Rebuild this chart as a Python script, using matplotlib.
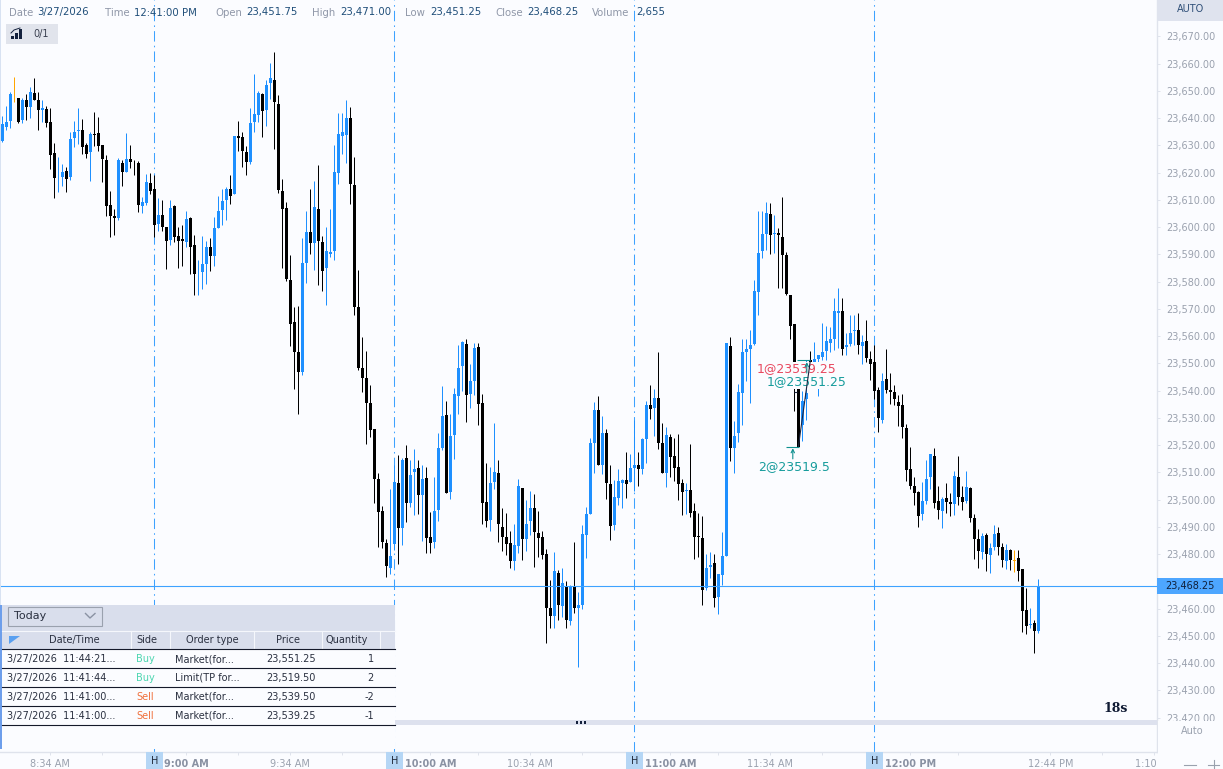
import matplotlib
matplotlib.use('Agg')
import matplotlib.pyplot as plt
from matplotlib.patches import Rectangle, Polygon

plt.rcParams['font.family'] = ['DejaVu Sans']

BG = '#fbfcff'
BLUE = '#1e90ff'
LINE_BLUE = '#3ea2ff'
GRID = '#dfe3ec'
GRAY = '#9aa1ae'

high = [23640.7,23644.6,23649.5,23655.25,23647.5,23647.5,23648.75,23651.6,23654.9,23649.75,
        23646.75,23644.6,23643.9,23631.0,23625.9,23623.3,23622.25,23635.05,23639.1,23643.9,
        23639.85,23631.0,23635.05,23642.4,23640.6,23630.3,23626.65,23613.4,23606.8,23625.5,
        23624.8,23634.7,23630.3,23624.8,23624.45,23611.2,23619.65,23620.0,23619.3,23610.85,
        23610.1,23600.2,23610.1,23608.25,23600.2,23600.95,23606.1,23603.85,23597.3,23588.1,
        23596.9,23595.05,23596.15,23603.85,23611.55,23614.15,23614.9,23619.3,23633.6,23639.1,
        23635.05,23629.95,23643.9,23656.35,23650.1,23649.4,23654.15,23660.4,23664.4,23648.65,
        23617.8,23609.4,23589.95,23570.85,23571.2,23596.15,23606.1,23614.15,23617.1,23622.95,
        23596.9,23600.2,23606.8,23630.3,23642.05,23642.05,23646.8,23644.25,23625.9,23584.45,
        23559.85,23554.7,23542.2,23526.05,23509.95,23497.8,23485.7,23504.05,23512.85,23516.55,
        23515.45,23520.2,23514.7,23518.75,23514.7,23512.85,23512.15,23495.6,23508.45,23524.6,
        23541.85,23536.35,23531.6,23541.1,23556.9,23558.35,23559.1,23549.95,23557.65,23557.65,
        23538.9,23513.6,23512.15,23528.25,23514.7,23497.1,23495.25,23488.65,23491.2,23507.75,
        23504.4,23500.0,23503.3,23502.2,23496.0,23488.65,23482.05,23470.65,23480.95,23474.35,
        23475.05,23470.3,23468.85,23484.6,23466.25,23490.85,23497.45,23522.8,23536.0,23538.2,
        23530.85,23526.1,23512.85,23507.35,23511.4,23507.75,23517.65,23516.9,23529.4,23517.65,
        23522.8,23536.35,23542.2,23540.75,23554.35,23528.3,23526.8,23524.25,23522.8,23524.25,
        23507.75,23506.25,23520.6,23498.9,23495.25,23494.15,23480.2,23480.95,23480.2,23472.85,
        23488.3,23557.65,23559.85,23529.0,23542.6,23559.1,23559.1,23562.4,23580.75,23606.1,
        23606.1,23609.4,23609.0,23604.6,23599.85,23611.25,23591.05,23575.25,23564.6,23550.2,
        23539.8,23551.4,23554.7,23558.0,23553.25,23565.0,23563.9,23563.5,23574.15,23577.8,
        23574.15,23561.3,23567.9,23567.9,23568.65,23560.55,23566.1,23554.7,23556.9,23541.5,
        23546.6,23555.45,23546.6,23542.2,23538.55,23538.9,23527.9,23519.5,23508.45,23503.3,
        23506.6,23514.7,23516.9,23519.1,23505.15,23501.15,23506.25,23502.6,23510.65,23516.15,
        23505.15,23510.65,23504.8,23494.9,23489.4,23487.9,23487.9,23484.25,23490.85,23490.1,
        23484.25,23483.9,23482.05,23481.7,23481.7,23474.7,23467.75,23460.4,23456.0,23471.0]

body_top = [23638.0,23638.75,23648.75,23648.65,23647.5,23646.75,23646.75,23649.75,23649.4,23646.75,
            23643.9,23643.5,23638.75,23627.35,23618.2,23620.4,23620.75,23632.5,23635.05,23635.8,
            23635.8,23630.3,23634.3,23634.3,23634.7,23630.3,23624.8,23608.25,23604.25,23624.8,
            23623.7,23625.15,23625.15,23624.45,23623.7,23609.4,23616.75,23616.35,23614.15,23604.6,
            23604.6,23600.2,23607.2,23607.9,23596.9,23595.8,23603.15,23603.5,23593.6,23583.35,
            23586.65,23592.85,23592.85,23599.85,23606.1,23609.75,23614.15,23614.15,23633.6,23633.6,
            23633.25,23627.75,23638.4,23641.65,23649.4,23649.0,23652.3,23654.9,23654.15,23645.35,
            23613.4,23607.2,23580.75,23565.35,23554.35,23587.0,23598.4,23598.4,23607.55,23606.8,
            23594.7,23591.4,23591.05,23620.4,23634.3,23635.05,23640.2,23640.2,23615.65,23570.85,
            23548.45,23544.8,23535.6,23526.05,23507.75,23496.0,23484.25,23479.5,23506.6,23506.25,
            23514.7,23515.45,23509.2,23511.4,23511.75,23507.75,23508.1,23486.45,23496.0,23519.1,
            23530.85,23531.2,23523.5,23538.9,23548.45,23558.0,23557.25,23543.7,23555.8,23556.15,
            23535.6,23499.3,23506.25,23510.3,23509.95,23490.1,23486.45,23484.25,23483.5,23505.15,
            23504.4,23491.2,23497.1,23497.1,23487.9,23486.45,23480.2,23460.4,23474.0,23473.25,
            23469.6,23468.1,23468.45,23468.1,23461.5,23487.55,23494.9,23520.95,23533.05,23533.05,
            23524.6,23524.6,23505.9,23501.1,23507.0,23507.35,23507.35,23511.75,23512.85,23512.85,
            23522.4,23534.9,23534.9,23537.45,23537.45,23520.95,23523.85,23523.15,23516.15,23512.15,
            23506.25,23503.7,23503.7,23496.0,23486.8,23486.1,23475.05,23476.2,23476.9,23472.85,
            23479.5,23557.65,23556.55,23523.5,23539.65,23554.35,23555.45,23556.9,23576.7,23590.65,
            23597.65,23605.35,23605.0,23598.0,23598.0,23596.55,23589.95,23575.25,23564.6,23547.75,
            23536.35,23539.3,23551.4,23551.75,23553.25,23554.35,23558.4,23559.1,23569.4,23569.4,
            23569.4,23556.9,23561.3,23562.4,23562.4,23558.0,23558.4,23551.75,23550.65,23540.4,
            23543.7,23544.4,23540.4,23539.65,23536.0,23534.9,23526.45,23511.4,23505.15,23502.95,
            23499.65,23507.75,23516.9,23516.15,23499.65,23500.4,23500.75,23499.3,23508.8,23508.45,
            23501.15,23504.8,23504.4,23493.4,23485.7,23486.8,23487.2,23482.4,23487.55,23487.9,
            23482.75,23481.7,23481.7,23478.0,23478.75,23474.7,23459.65,23454.5,23454.9,23468.25]

body_bottom = [23631.75,23636.9,23639.1,23648.4,23638.75,23639.5,23644.25,23644.25,23646.75,23643.15,
               23643.15,23638.4,23626.65,23618.2,23617.95,23618.55,23617.8,23618.55,23632.85,23635.45,
               23629.55,23627.0,23627.5,23634.0,23629.95,23625.15,23607.9,23604.25,23603.5,23603.5,
               23620.4,23620.4,23624.05,23624.2,23608.25,23607.9,23609.0,23613.4,23600.95,23601.3,
               23600.2,23595.05,23595.45,23596.55,23595.05,23595.05,23594.7,23592.85,23583.0,23583.1,
               23583.7,23586.65,23589.55,23589.55,23599.85,23606.45,23610.1,23611.55,23612.3,23632.85,
               23628.1,23624.05,23624.05,23638.75,23641.3,23642.8,23643.15,23653.05,23646.05,23613.8,
               23606.8,23581.1,23564.6,23554.35,23547.0,23547.0,23587.0,23594.35,23594.35,23595.05,
               23584.05,23585.15,23590.3,23591.4,23620.0,23633.6,23634.0,23616.0,23570.85,23548.45,
               23544.8,23535.6,23525.7,23507.75,23495.6,23484.6,23475.8,23475.05,23483.9,23489.75,
               23489.75,23498.9,23498.9,23510.3,23501.85,23501.85,23486.1,23484.25,23484.6,23496.35,
               23519.1,23502.6,23502.95,23523.85,23538.2,23549.2,23538.55,23538.9,23543.7,23535.25,
               23498.9,23492.3,23492.7,23506.6,23491.2,23486.45,23483.9,23477.65,23477.65,23483.15,
               23485.7,23485.7,23492.3,23488.25,23486.1,23479.85,23460.4,23457.45,23457.45,23461.5,
               23461.15,23456.0,23455.6,23460.4,23460.4,23461.5,23487.2,23494.9,23520.95,23512.85,
               23512.85,23506.25,23490.5,23490.85,23500.75,23506.25,23505.9,23506.6,23511.75,23511.4,
               23511.4,23522.4,23533.4,23533.8,23520.95,23509.95,23509.95,23515.8,23511.75,23505.9,
               23502.95,23503.3,23495.25,23486.45,23486.45,23467.0,23467.75,23475.45,23464.05,23464.45,
               23472.5,23479.5,23519.1,23519.1,23524.6,23539.3,23554.35,23555.45,23557.3,23576.35,
               23591.4,23597.65,23597.3,23597.65,23597.3,23589.95,23575.65,23563.9,23547.75,23519.5,
               23527.55,23537.1,23547.75,23550.2,23551.75,23552.5,23554.7,23557.65,23559.1,23568.65,
               23555.45,23556.15,23557.3,23562.05,23556.9,23556.55,23552.15,23549.95,23540.0,23530.1,
               23529.4,23540.4,23539.65,23537.1,23534.5,23526.8,23511.05,23505.15,23502.6,23494.15,
               23494.9,23499.65,23508.45,23498.9,23496.35,23496.0,23499.3,23498.55,23498.55,23501.15,
               23499.3,23499.65,23493.4,23485.7,23481.3,23480.95,23480.2,23479.85,23482.75,23482.75,
               23478.0,23477.65,23478.0,23477.65,23474.0,23459.3,23453.8,23454.15,23451.95,23451.75]

low = [23631.25,23635.8,23636.5,23645.85,23638.15,23638.25,23639.5,23640.2,23646.75,23635.8,
       23638.75,23636.9,23621.5,23610.85,23613.05,23615.25,23613.05,23617.45,23629.55,23630.65,
       23627.0,23625.5,23617.1,23629.95,23628.1,23616.75,23604.25,23596.55,23597.3,23602.8,
       23615.25,23620.4,23621.85,23619.3,23605.7,23605.35,23608.25,23612.3,23596.55,23598.75,
       23598.75,23584.8,23593.6,23594.7,23585.15,23585.9,23592.85,23583.0,23575.25,23575.25,
       23577.45,23579.3,23584.05,23585.9,23599.85,23600.95,23602.8,23608.65,23612.3,23628.1,
       23622.25,23619.3,23623.3,23635.05,23638.75,23633.25,23637.25,23647.2,23628.85,23612.7,
       23585.15,23580.4,23556.55,23540.75,23531.6,23545.9,23579.65,23590.3,23584.45,23578.9,
       23576.7,23571.6,23589.2,23588.1,23616.0,23627.0,23623.7,23608.65,23567.9,23547.75,
       23539.65,23520.6,23523.15,23498.9,23482.75,23482.4,23471.75,23472.85,23481.7,23476.55,
       23483.5,23491.95,23497.45,23494.5,23494.9,23485.0,23480.55,23480.55,23482.4,23492.3,
       23518.35,23502.6,23500.4,23515.05,23531.6,23540.0,23528.65,23533.8,23538.55,23527.55,
       23491.2,23490.1,23488.65,23504.05,23484.6,23481.3,23479.85,23475.05,23474.35,23480.55,
       23478.0,23481.3,23487.2,23475.45,23479.1,23478.4,23447.55,23453.05,23453.05,23456.0,
       23457.1,23453.05,23454.15,23458.55,23438.75,23460.0,23478.75,23494.9,23509.95,23512.85,
       23509.55,23500.4,23485.35,23489.0,23498.2,23497.1,23500.75,23506.6,23503.35,23505.15,
       23509.55,23513.6,23529.75,23523.5,23518.75,23509.95,23504.8,23508.45,23507.0,23500.0,
       23494.5,23494.9,23493.8,23478.4,23479.1,23461.5,23467.0,23471.4,23460.75,23458.2,
       23468.85,23479.5,23514.35,23509.95,23521.3,23527.55,23543.7,23535.65,23556.9,23567.9,
       23588.85,23591.8,23590.3,23590.65,23577.8,23577.8,23575.25,23559.1,23532.45,23519.5,
       23521.7,23529.4,23545.3,23547.75,23538.2,23551.4,23551.4,23554.35,23555.05,23555.8,
       23553.25,23553.25,23556.55,23556.9,23553.6,23549.95,23550.65,23544.05,23537.1,23525.0,
       23528.25,23539.3,23535.25,23534.9,23527.2,23522.8,23507.0,23504.05,23498.2,23490.1,
       23492.7,23498.55,23504.05,23497.1,23493.05,23489.75,23495.25,23494.15,23494.5,23498.2,
       23496.35,23498.9,23491.95,23478.4,23475.05,23478.4,23474.0,23473.25,23481.7,23479.85,
       23475.45,23474.7,23474.35,23473.6,23470.3,23451.6,23450.85,23453.05,23443.9,23451.25]

# b = up, k = down, o = highlighted
side = ('bbbokbkbkk' 'bkkkbbkbbb' 'kkbkkkkkkb' 'kbkkkbbkkb' 'kkbkkkbkkb'
        'bbkbbbbkbk' 'kkbbbkbbkk' 'kkkkkbbkbk' 'kbbbbbbkkk' 'kkkkkkkbbk'
        'bkbbkbkkbb' 'bkbbbbkbbk' 'kkbbkkkkbb' 'kbbkkkkkbk' 'bkbkbbbbbk'
        'bkkbbbkbbk' 'bbkbkkbkkk' 'kbkkkkbbkb' 'bbkbbbbbbb' 'bbkbkkkkkk'
        'bbkbbbbbbb' 'kbbbkbkkkk' 'bkkkkkkkkk' 'bbbkkbkkbk' 'kbkkkbkbbk'
        'kbkokkkbkb')

colors = {'b': BLUE, 'k': '#000000', 'o': '#ffa500'}

last_price = 23468.25
hour_bars = [38, 98, 158, 218]
price_ticks = list(range(23420, 23680, 10))
time_ticks = [12, 25, 46, 59, 72, 85, 107, 119, 132, 145, 167, 179, 192, 205, 227, 239, 262, 275, 288]
time_labels = ['8:34 AM', '', '9:00 AM', '', '9:34 AM', '', '10:00 AM', '', '10:34 AM', '',
               '11:00 AM', '', '11:34 AM', '', '12:00 PM', '', '12:44 PM', '', '1:10 PM']
bold_labels = ['9:00 AM', '10:00 AM', '11:00 AM', '12:00 PM']

header_names = ['Date', 'Time', 'Open', 'High', 'Low', 'Close', 'Volume']
header_values = ['3/27/2026', '12:41:00 PM', '23,451.75', '23,471.00', '23,451.25', '23,468.25', '2,655']

table_cols = ['Date/Time', 'Side', 'Order type', 'Price', 'Quantity']
order_times = ['3/27/2026  11:44:21...', '3/27/2026  11:41:44...', '3/27/2026  11:41:00...', '3/27/2026  11:41:00...']
order_sides = ['Buy', 'Buy', 'Sell', 'Sell']
order_types = ['Market(for...', 'Limit(TP for...', 'Market(for...', 'Market(for...']
order_prices = ['23,551.25', '23,519.50', '23,539.50', '23,539.25']
order_qty = ['1', '2', '-2', '-1']

fig = plt.figure(figsize=(12.23, 7.69), dpi=100, facecolor=BG)

ax = fig.add_axes([0, 17 / 769, 1157 / 1223, 752 / 769], facecolor=BG)
ax.set_xlim(-0.6, 288.65)
ax.set_ylim(23407.43, 23683.39)

xs = list(range(len(high)))
bar_colors = [colors[s] for s in side]
ax.vlines(xs, low, high, colors=bar_colors, linewidth=0.72, zorder=2)
ax.bar(xs, [t - b for t, b in zip(body_top, body_bottom)], bottom=body_bottom,
       width=0.75, color=bar_colors, linewidth=0, zorder=2.1)

for h in hour_bars:
    ax.axvline(h, color=LINE_BLUE, lw=0.75, linestyle=(0, (10, 4, 1.5, 4)), zorder=1.5)
    ax.add_patch(Rectangle((h - 2.1, -17 / 752), 4.25, 17 / 752, transform=ax.get_xaxis_transform(),
                           facecolor='#b5d6f5', edgecolor='none', clip_on=False, zorder=5))
    ax.annotate('H', xy=(h, -8.5 / 752), xycoords=ax.get_xaxis_transform(), ha='center', va='center',
                fontsize=7, color='#222a3a', annotation_clip=False, zorder=6)

ax.axhline(last_price, color=LINE_BLUE, lw=0.8, zorder=4)

# trade labels cover the candles behind them
box = dict(facecolor=BG, edgecolor='none', pad=0.6)
ax.text(198.6, 23548.0, '1@23539.25', color='#e8485f', fontsize=9, ha='center', va='center', bbox=box, zorder=3)
ax.text(201.05, 23543.2, '1@23551.25', color='#169c9c', fontsize=9, ha='center', va='center', bbox=box, zorder=3.1)
ax.text(197.8, 23512.1, '2@23519.5', color='#169c9c', fontsize=9, ha='center', va='center', zorder=3.1)

ax.plot([199, 202], [23519.5, 23551.25], color='#1c2540', lw=0.8, zorder=3.5)
ax.hlines(23519.5, 196, 199.2, color='#0e8f8f', lw=0.8, zorder=3.5)
ax.hlines(23551.25, 198.6, 202, color='#0e8f8f', lw=0.8, zorder=3.5)
ax.hlines(23539.5, 197.8, 198.6, color='#1c2540', lw=0.8, zorder=3.5)
ax.annotate('', xy=(197.6, 23518.9), xytext=(197.6, 23515.0),
            arrowprops=dict(arrowstyle='->', color='#0e8f8f', lw=0.8, mutation_scale=6, shrinkA=0, shrinkB=0), zorder=3.5)
ax.annotate('', xy=(201.1, 23550.5), xytext=(201.1, 23546.5),
            arrowprops=dict(arrowstyle='->', color='#0e8f8f', lw=0.8, mutation_scale=6, shrinkA=0, shrinkB=0), zorder=3.5)

ax.yaxis.tick_right()
ax.set_yticks(price_ticks)
# 23,470 sits under the last price tag
ax.set_yticklabels(['' if p == 23470 else '{:,.2f}'.format(p) for p in price_ticks])
ax.tick_params(axis='y', length=2.5, width=0.7, color=GRID, labelcolor=GRAY, labelsize=7, pad=4.5)
ax.set_xticks(time_ticks)
ax.set_xticklabels(time_labels)
ax.tick_params(axis='x', length=2.5, width=0.7, color=GRID, labelcolor=GRAY, labelsize=7, pad=2.5)
for lab in ax.get_xticklabels():
    if lab.get_text() in bold_labels:
        lab.set_fontweight('bold')
        lab.set_color('#8a92a3')

for name, sp in ax.spines.items():
    sp.set_visible(name in ('right', 'bottom'))
    sp.set_color(GRID)
    sp.set_linewidth(1)

# everything that sits on top of the chart, in screen pixels
ui = fig.add_axes([0, 0, 1, 1])
ui.set_xlim(0, 1223)
ui.set_ylim(769, 0)
ui.axis('off')


def rect(x0, y0, x1, y1, color, **kw):
    ui.add_patch(Rectangle((x0, y0), x1 - x0, y1 - y0, facecolor=color, edgecolor=kw.pop('ec', 'none'),
                           linewidth=kw.pop('lw', 0), **kw))


def label(x, y, s, color='#3a4050', size=7, ha='left', **kw):
    ui.text(x, y, s, color=color, fontsize=size, ha=ha, va='center', **kw)


# header strip
name_x = [9.5, 105, 215, 312, 405, 495, 592]
value_x = [37, 134, 246, 340, 430, 527, 636]
for x, s in zip(name_x, header_names):
    label(x, 12.5, s, color='#8f97a8', size=7.3)
for x, s in zip(value_x, header_values):
    label(x, 12.5, s, color='#1f4e79', size=7.3)

rect(1157, 0, 1223, 21, '#dfe3ee')
label(1191, 9.5, 'AUTO', color='#2f4f78', ha='center')

# indicator button
rect(6, 24, 58, 44, '#e1e4ec')
for x0, y0 in [(11, 36), (15, 33), (19, 29)]:
    rect(x0, y0, x0 + 2.5, 39, '#14213d')
ui.plot([11, 14, 20], [33, 30, 28], color='#14213d', lw=0.7)
label(33, 34, '0/1', color='#3a4050')

rect(0, 0, 1.2, 605, '#d8e2f2')

# bottom right corner
rect(1157.5, 720.5, 1223, 769, BG)
label(1192, 731, 'Auto', color=GRAY, ha='center')
ui.plot([1184, 1196], [765, 765], color=GRAY, lw=0.8)
ui.plot([1208, 1219], [765, 765], color=GRAY, lw=0.8)
ui.plot([1213.5, 1213.5], [760, 769], color=GRAY, lw=0.8)

# last price tag
rect(1157, 578, 1223, 594, '#4da6ff')
label(1190, 586, '{:,.2f}'.format(last_price), color='#10203a', ha='center')

# bottom splitter
rect(395, 720, 1157, 724.5, '#dde1ee')
for x in [576.5, 580.5, 584.5]:
    rect(x - 1, 721, x + 1, 723.5, '#14213d')
label(1115.5, 708, '18s', color='#0f1a33', size=9, ha='center', family='DejaVu Serif', fontweight='bold')

# order table
rect(2, 605, 395, 749, BG)
rect(0, 605, 2, 749, '#6d9eeb')
rect(2, 605, 395, 648.5, '#d9deec')
ui.add_patch(Rectangle((7.5, 606.5), 94, 19, facecolor='#d9deec', edgecolor='#9aa1ae', linewidth=0.8))
label(14, 616, 'Today', color='#2a3040', size=8)
ui.plot([85.5, 90, 95], [613.5, 618, 613.5], color='#8a92a3', lw=1)
ui.plot([2, 395], [631, 631], color='#f5f7fc', lw=0.8)
for x in [131, 170, 254, 322, 380]:
    ui.plot([x, x], [631, 648], color='#f5f7fc', lw=0.8)
ui.add_patch(Polygon([(9, 636), (20, 636), (9, 644)], facecolor='#5aa0f0', edgecolor='none'))
for x, s in zip([74, 147, 212, 288, 347], table_cols):
    label(x, 640, s, color='#2a3040', ha='center')

row_h = 18.9
for y in [649.3 + row_h * n for n in range(5)]:
    ui.plot([2, 395], [y, y], color='#14192a', lw=0.8)
side_colors = {'Buy': '#4dd6b0', 'Sell': '#f0703c'}
for n in range(4):
    y = 659 + row_h * n
    label(7, y, order_times[n], color='#2a3040')
    label(136, y, order_sides[n], color=side_colors[order_sides[n]])
    label(175, y, order_types[n], color='#2a3040')
    label(316, y, order_prices[n], color='#2a3040', ha='right')
    label(374, y, order_qty[n], color='#2a3040', ha='right')

fig.savefig('out.png', dpi=100, facecolor=BG)
